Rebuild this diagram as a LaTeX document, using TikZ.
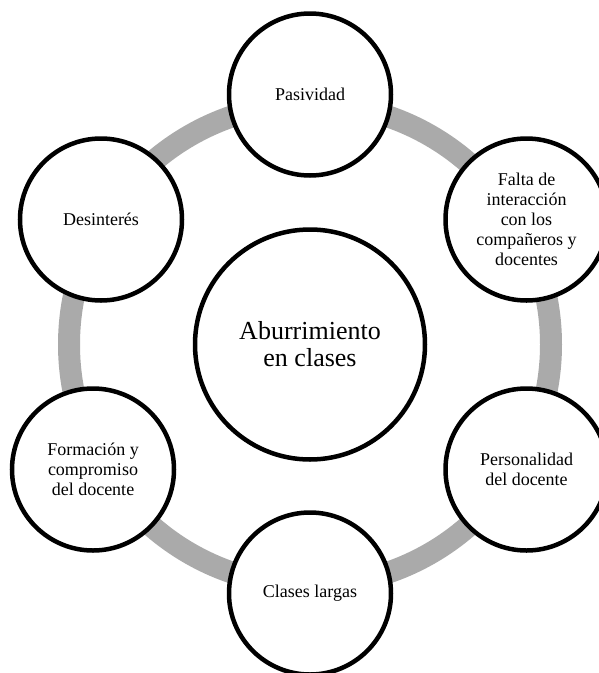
\documentclass[tikz,border=0pt]{standalone}
\usepackage{fontspec}
\setmainfont{Liberation Serif}

\definecolor{ringgray}{RGB}{170,170,170}

\begin{document}
\begin{tikzpicture}[
        x=1pt, y=-1pt,
        every node/.style={align=center, font=\fontsize{18}{20}\selectfont},
        topic/.style={draw, circle, line width=4.5pt, fill=white, minimum size=162pt, inner sep=0pt},
        hub/.style={topic, minimum size=230pt, font=\fontsize{26}{27}\selectfont},
        ring/.style={draw=ringgray, line width=22pt}
    ]
        \clip (0,0) rectangle (599,673);
        \coordinate (mid) at (310,344.5);
        \draw[ring] (mid) circle (241);
        \node[hub] (bored) at (mid) {Aburrimiento\\en clases};
\node[topic] (pas) at ([shift={(0,-250)}]mid) {Pasividad};
        \node[topic] (falta) at ([shift={(216.5,-125)}]mid) {Falta de\\interacción\\con los\\compañeros y\\docentes};
        \node[topic] (perso) at ([shift={(216.5,125)}]mid) {Personalidad\\del docente};
        \node[topic] (largas) at ([shift={(0,249)}]mid) {Clases largas};
        \node[topic] (forma) at ([shift={(-217,125)}]mid) {Formación y\\compromiso\\del docente};
        \node[topic] (desin) at ([shift={(-209,-125)}]mid) {Desinterés};
\end{tikzpicture}
\end{document}
